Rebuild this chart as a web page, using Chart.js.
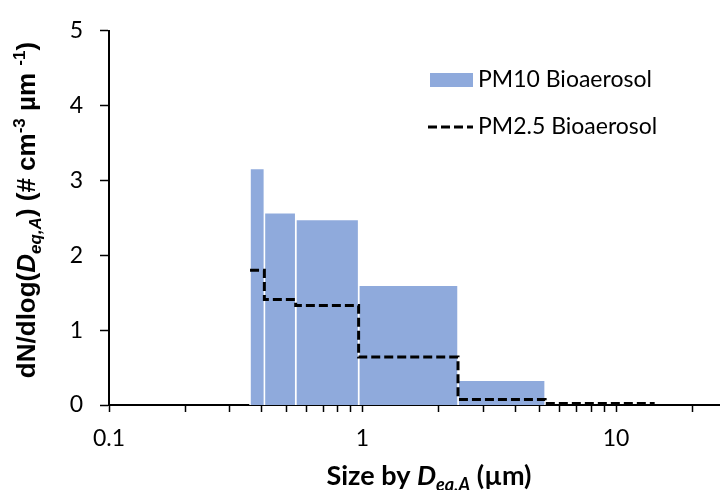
<!DOCTYPE html>
<html><head><meta charset="utf-8">
<script src="https://cdn.jsdelivr.net/npm/chart.js@4"></script>
<style>html,body{margin:0;padding:0;background:#fff}canvas{display:block}</style>
</head><body>
<canvas id="c" width="720" height="490"></canvas>
<script>
// ---- data ----
const binEdges = [0.36, 0.41, 0.545, 0.965, 2.38, 5.25, 14.2];
const pm10Values = [3.16, 2.57, 2.48, 1.60, 0.33, 0];
const pm25Values = [1.80, 1.41, 1.33, 0.64, 0.075, 0.02];
const seriesNames = ['PM10 Bioaerosol', 'PM2.5 Bioaerosol'];
const xTickValues = [0.1,0.2,0.3,0.4,0.5,0.6,0.7,0.8,0.9,1,2,3,4,5,6,7,8,9,10,20];
const xTickLabels = ['0.1','1','10'];
const yTickValues = [0,1,2,3,4,5];

const BAR_COLOR = '#8FAADC';
const TICK_FONT = {family: 'Lato', size: 23};

// PM10 bars: one filled polygon per bin
const barDatasets = [];
pm10Values.forEach((v, i) => {
  if (v <= 0) return;
  barDatasets.push({
    label: seriesNames[0],
    data: [{x: binEdges[i], y: 0}, {x: binEdges[i], y: v}, {x: binEdges[i+1], y: v}, {x: binEdges[i+1], y: 0}],
    backgroundColor: BAR_COLOR,
    borderColor: '#ffffff',
    borderWidth: 1.5,
    fill: 'origin',
    pointRadius: 0,
    tension: 0
  });
});

// PM2.5 stepped line
const stepData = pm25Values.map((v, i) => ({x: binEdges[i], y: v}));
stepData.push({x: binEdges[binEdges.length - 1], y: pm25Values[pm25Values.length - 1]});
const stepDataset = {
  label: seriesNames[1],
  data: stepData,
  stepped: 'before',
  borderColor: '#000000',
  borderWidth: 3,
  borderDash: [9, 4],
  fill: false,
  pointRadius: 0
};

function drawRuns(ctx, runs, cx, baseline) {
  let total = 0;
  runs.forEach(r => { ctx.font = r.font; r.w = ctx.measureText(r.text).width; total += r.w; });
  let x = cx - total / 2;
  ctx.textAlign = 'left';
  ctx.textBaseline = 'alphabetic';
  runs.forEach(r => { ctx.font = r.font; ctx.fillText(r.text, x, baseline + (r.dy || 0)); x += r.w; });
}

const decorPlugin = {
  id: 'decor',
  afterDraw(chart) {
    const ctx = chart.ctx;
    ctx.save();
    ctx.fillStyle = '#000';
    // Y axis title (rotated)
    ctx.save();
    ctx.translate(35, 210);
    ctx.rotate(-Math.PI / 2);
    const yb = 'bold 26px "Liberation Sans"', ys = 'bold 17px "Liberation Sans"';
    const ybi = 'italic bold 26px "Liberation Sans"', ysi = 'italic bold 17px "Liberation Sans"';
    drawRuns(ctx, [
      {text: 'dN/dlog(', font: yb},
      {text: 'D', font: ybi},
      {text: 'eq,A', font: ysi, dy: 6},
      {text: ') (# cm', font: yb},
      {text: '-3', font: ys, dy: -10},
      {text: ' µm ', font: yb},
      {text: '-1', font: ys, dy: -10},
      {text: ')', font: yb}
    ], 0, 0);
    ctx.restore();
    // X axis title
    const xb = 'bold 27px Lato', xbi = 'italic bold 27px Lato', xsi = 'italic bold 18px Lato';
    drawRuns(ctx, [
      {text: 'Size by ', font: xb},
      {text: 'D', font: xbi},
      {text: 'eq,A', font: xsi, dy: 6},
      {text: ' (µm)', font: xb}
    ], 429, 485);
    // Legend
    ctx.fillStyle = BAR_COLOR;
    ctx.fillRect(430, 73, 43, 14);
    ctx.strokeStyle = '#000';
    ctx.lineWidth = 3;
    ctx.setLineDash([9, 4]);
    ctx.beginPath(); ctx.moveTo(428, 127); ctx.lineTo(473, 127); ctx.stroke();
    ctx.setLineDash([]);
    ctx.fillStyle = '#000';
    ctx.font = '23px Lato';
    ctx.textBaseline = 'middle';
    ctx.textAlign = 'left';
    ctx.fillText(seriesNames[0], 478, 80);
    ctx.fillText(seriesNames[1], 478, 127);
    ctx.restore();
  }
};

new Chart(document.getElementById('c'), {
  type: 'line',
  data: {datasets: [stepDataset].concat(barDatasets)},
  options: {
    responsive: false,
    animation: false,
    devicePixelRatio: 1,
    layout: {padding: {top: 22, right: 0, bottom: 0, left: 0}},
    plugins: {legend: {display: false}, tooltip: {enabled: false}},
    scales: {
      x: {
        type: 'logarithmic',
        min: 0.1,
        max: 25.7,
        z: 1,
        afterBuildTicks: s => { s.ticks = xTickValues.map(v => ({value: v})); },
        afterFit: s => { s.height = 85; },
        ticks: {
          autoSkip: false,
          maxRotation: 0,
          padding: 13,
          color: '#000',
          font: TICK_FONT,
          callback: v => { const t = String(v); return xTickLabels.includes(t) ? t : ''; }
        },
        grid: {drawOnChartArea: false, drawTicks: true, tickLength: 7, tickColor: '#000', tickWidth: 1.5},
        border: {display: true, color: '#000', width: 2}
      },
      y: {
        type: 'linear',
        min: 0,
        max: 5,
        z: 1,
        afterBuildTicks: s => { s.ticks = yTickValues.map(v => ({value: v})); },
        afterFit: s => { s.width = 109; },
        ticks: {padding: 17, color: '#000', font: TICK_FONT},
        grid: {drawOnChartArea: false, drawTicks: true, tickLength: 9, tickColor: '#000', tickWidth: 1.5},
        border: {display: true, color: '#000', width: 2}
      }
    }
  },
  plugins: [decorPlugin]
});
</script>
</body></html>
